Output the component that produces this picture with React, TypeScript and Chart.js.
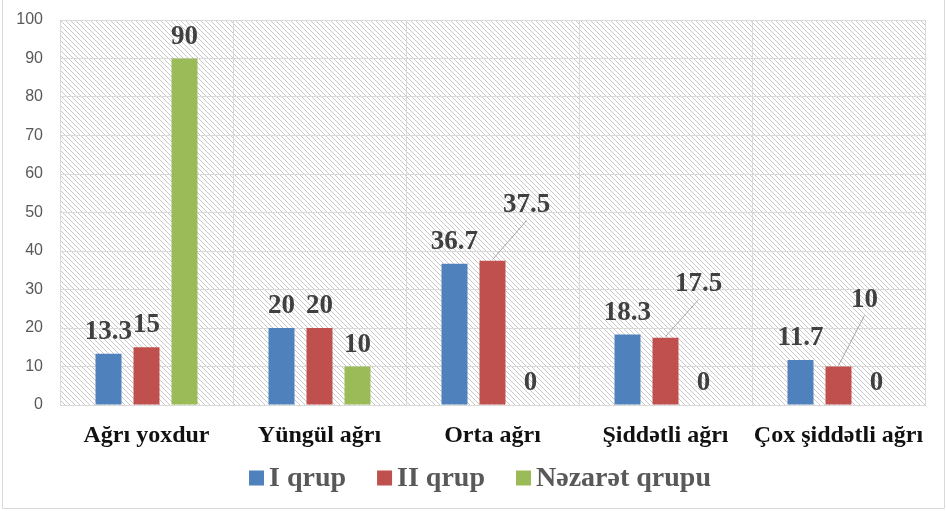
import React, { useEffect, useRef } from "react";
import { Chart, registerables } from "chart.js";

Chart.register(...registerables);

const categories = ["Ağrı yoxdur", "Yüngül ağrı", "Orta ağrı", "Şiddətli ağrı", "Çox şiddətli ağrı"];
const seriesNames = ["I qrup", "II qrup", "Nəzarət qrupu"];
const groupI = [13.3, 20, 36.7, 18.3, 11.7];
const groupII = [15, 20, 37.5, 17.5, 10];
const controlGroup = [90, 10, 0, 0, 0];
const yMin = 0;
const yMax = 100;
const yStep = 10;

const colors = ["#4F81BD", "#C0504D", "#9BBB59"];
// label nudges (dataset index, point index) -> [dx, dy] with leader line
const labelNudges: Record<string, [number, number]> = {
  "1-2": [34, -34],
  "1-3": [33, -32],
  "1-4": [26, -45],
};

const SERIF = "'Liberation Serif', 'Times New Roman', serif";
const SANS = "'Liberation Sans', Arial, sans-serif";
const PLOT_TOP = 20;

const topFixPlugin = {
  id: "topFix",
  afterLayout(chart: any) {
    const y = chart.scales && chart.scales.y;
    const ca = chart.chartArea;
    if (!y || !ca) return;
    const b = y.bottom;
    if (typeof b !== "number" || b <= PLOT_TOP + 50) return;
    y.top = PLOT_TOP;
    y.height = b - PLOT_TOP;
    if (typeof y.configure === "function") y.configure();
    ca.top = PLOT_TOP;
    ca.height = ca.bottom - PLOT_TOP;
  },
};

const hatchPlugin = {
  id: "hatch",
  beforeDraw(chart: any) {
    const { ctx, chartArea } = chart;
    const pc = document.createElement("canvas");
    pc.width = 5;
    pc.height = 5;
    const p = pc.getContext("2d")!;
    p.fillStyle = "#ffffff";
    p.fillRect(0, 0, 5, 5);
    p.strokeStyle = "#c8c8c8";
    p.lineWidth = 1;
    p.beginPath();
    p.moveTo(0, 0);
    p.lineTo(5, 5);
    p.moveTo(-1, 4);
    p.lineTo(1, 6);
    p.moveTo(4, -1);
    p.lineTo(6, 1);
    p.stroke();
    const pattern = ctx.createPattern(pc, "repeat");
    ctx.save();
    ctx.fillStyle = pattern;
    ctx.fillRect(chartArea.left, chartArea.top, chartArea.right - chartArea.left, chartArea.bottom - chartArea.top);
    // outer border
    ctx.strokeStyle = "#d9d9d9";
    ctx.lineWidth = 1;
    ctx.beginPath();
    ctx.moveTo(2.5, 0);
    ctx.lineTo(2.5, 508.5);
    ctx.lineTo(944.5, 508.5);
    ctx.lineTo(944.5, 0);
    ctx.stroke();
    ctx.restore();
  },
};

const labelPlugin = {
  id: "valueLabels",
  afterDatasetsDraw(chart: any) {
    const { ctx } = chart;
    ctx.save();
    ctx.font = `bold 27px ${SERIF}`;
    ctx.fillStyle = "#404040";
    ctx.textAlign = "center";
    ctx.textBaseline = "alphabetic";
    chart.data.datasets.forEach((ds: any, di: number) => {
      const meta = chart.getDatasetMeta(di);
      meta.data.forEach((bar: any, i: number) => {
        const v = ds.data[i];
        let x = bar.x;
        let y = bar.y - 15;
        const nudge = labelNudges[`${di}-${i}`];
        if (nudge) {
          x += nudge[0];
          y += nudge[1];
          ctx.save();
          ctx.strokeStyle = "#a6a6a6";
          ctx.lineWidth = 1;
          ctx.beginPath();
          ctx.moveTo(bar.x, bar.y - 1);
          ctx.lineTo(x, y + 9);
          ctx.stroke();
          ctx.restore();
        }
        ctx.fillText(String(v), x, y);
      });
    });
    ctx.restore();
  },
};

const legendPlugin = {
  id: "customLegend",
  afterDraw(chart: any) {
    const { ctx } = chart;
    ctx.save();
    ctx.font = `bold 28px ${SERIF}`;
    const box = 15;
    const gapBox = 5;
    const gapItem = 31;
    const widths = seriesNames.map((n) => ctx.measureText(n).width);
    const total = widths.reduce((a, w) => a + box + gapBox + w, 0) + gapItem * (seriesNames.length - 1);
    let x = 480 - total / 2;
    const cy = 478;
    ctx.textBaseline = "middle";
    ctx.textAlign = "left";
    seriesNames.forEach((n, i) => {
      ctx.fillStyle = colors[i];
      ctx.fillRect(x, cy - box / 2, box, box);
      x += box + gapBox;
      ctx.fillStyle = "#595959";
      ctx.fillText(n, x, cy + 1);
      x += widths[i] + gapItem;
    });
    ctx.restore();
  },
};

export default function App() {
  const ref = useRef<HTMLCanvasElement | null>(null);
  useEffect(() => {
    document.body.style.margin = "0";
    const canvas = ref.current!;
    const datasetsValues = [groupI, groupII, controlGroup];
    const chart = new Chart(canvas, {
      type: "bar",
      data: {
        labels: categories,
        datasets: datasetsValues.map((vals, i) => ({
          label: seriesNames[i],
          data: vals,
          backgroundColor: colors[i],
          borderWidth: 0,
          categoryPercentage: 0.659,
          barPercentage: 0.684,
        })),
      },
      options: {
        animation: false,
        responsive: true,
        maintainAspectRatio: false,
        layout: { autoPadding: false, padding: { left: 0, right: 21, top: 20, bottom: 0 } },
        plugins: {
          legend: { display: false },
          tooltip: { enabled: false },
        },
        scales: {
          x: {
            grid: { color: "#d9d9d9", lineWidth: 1, drawTicks: false, offset: true },
            border: { color: "#d9d9d9" },
            ticks: {
              color: "#111111",
              font: { family: SERIF, size: 24, weight: "bold" },
              padding: 16,
              maxRotation: 0,
              autoSkip: false,
            },
            afterFit(scale: any) {
              scale.height = 106;
            },
          },
          y: {
            min: yMin,
            max: yMax,
            grid: { color: "#d9d9d9", lineWidth: 1, drawTicks: false },
            border: { display: false },
            ticks: {
              stepSize: yStep,
              color: "#595959",
              font: { family: SANS, size: 16 },
              padding: 17,
            },
            afterFit(scale: any) {
              scale.width = 60;
            },
          },
        },
      },
      plugins: [topFixPlugin, hatchPlugin, labelPlugin, legendPlugin],
    });
    return () => chart.destroy();
  }, []);
  return (
    <div style={{ position: "relative", width: 946, height: 511 }}>
      <canvas ref={ref} />
    </div>
  );
}
